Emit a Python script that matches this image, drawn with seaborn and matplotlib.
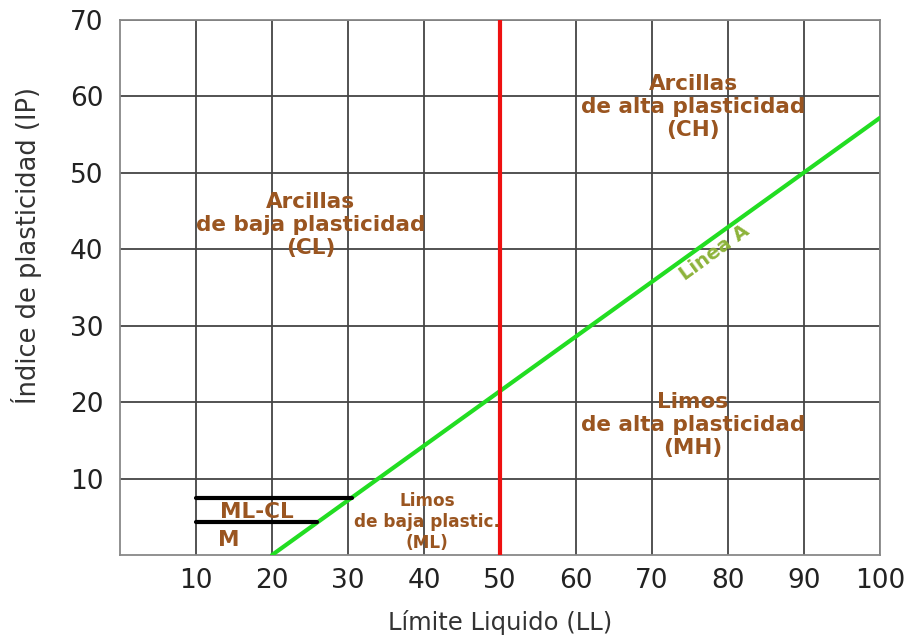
import matplotlib
matplotlib.use("Agg")
import matplotlib.pyplot as plt
import seaborn as sns
import pandas as pd

# A-line (Casagrande chart)
a_ll = [20, 100]
a_ip = [0, 57.2]
# LL = 50 limit
lim_ll = [50, 50]
lim_ip = [0, 70]
# ML-CL band limits
band_ll_hi = [10, 30.5]
band_ip_hi = [7.5, 7.5]
band_ll_lo = [10, 25.9]
band_ip_lo = [4.3, 4.3]

xticks = [10, 20, 30, 40, 50, 60, 70, 80, 90, 100]
yticks = [10, 20, 30, 40, 50, 60, 70]

labels = ["Arcillas\nde alta plasticidad\n(CH)",
          "Arcillas\nde baja plasticidad\n(CL)",
          "Limos\nde alta plasticidad\n(MH)",
          "Limos\nde baja plastic.\n(ML)",
          "ML-CL", "M"]
label_x = [75.4, 25.1, 75.4, 40.4, 18.0, 14.3]
label_y = [58.6, 43.2, 17.0, 4.3, 5.6, 2.0]
label_size = [15.5, 15.5, 15.5, 12.2, 15.5, 15.5]

brown = "#9a5520"
grid_c = "#444444"

sns.set_style("white")
plt.rcParams['font.family'] = ['DejaVu Sans']

fig = plt.figure(figsize=(9.09, 6.39), dpi=100)
ax = fig.add_axes([120/909, 84/639, 760/909, 535/639])

# estimator=None so seaborn draws the raw points (no aggregation on repeated x)
kw = dict(ax=ax, linewidth=3, zorder=5, estimator=None, sort=False)
sns.lineplot(x=a_ll, y=a_ip, color="#22dd22", **kw)
sns.lineplot(x=lim_ll, y=lim_ip, color="#ee1111", **kw)
sns.lineplot(x=band_ll_hi, y=band_ip_hi, color="black", **kw)
sns.lineplot(x=band_ll_lo, y=band_ip_lo, color="black", **kw)

ax.set_xlim(0, 100)
ax.set_ylim(0, 70)
ax.set_xticks(xticks)
ax.set_yticks(yticks)
ax.grid(True, color=grid_c, linewidth=1.3, zorder=1)
ax.set_axisbelow(True)
for s in ax.spines.values():
    s.set_color("#888888")
    s.set_linewidth(1.3)
ax.tick_params(axis="x", length=0, pad=9, labelsize=19, colors="#222222")
ax.tick_params(axis="y", length=6, width=1.2, color="#888888", pad=6, labelsize=19, labelcolor="#222222")

ax.set_xlabel("Límite Liquido (LL)", fontsize=17.5, color="#333333", labelpad=12)
ax.set_ylabel("Índice de plasticidad (IP)", fontsize=18.5, color="#333333")
ax.yaxis.set_label_coords(-0.103, 0.578)

for t, x, y, fs in zip(labels, label_x, label_y, label_size):
    ax.text(x, y, t, ha="center", va="center", fontsize=fs, fontweight="bold",
            color=brown, linespacing=1.2, zorder=6)

ax.text(78.2, 39.6, "Linea A", ha="center", va="center", rotation=36,
        fontsize=14, fontweight="bold", color="#8db33a", zorder=6)

fig.savefig("out.png", dpi=100)
